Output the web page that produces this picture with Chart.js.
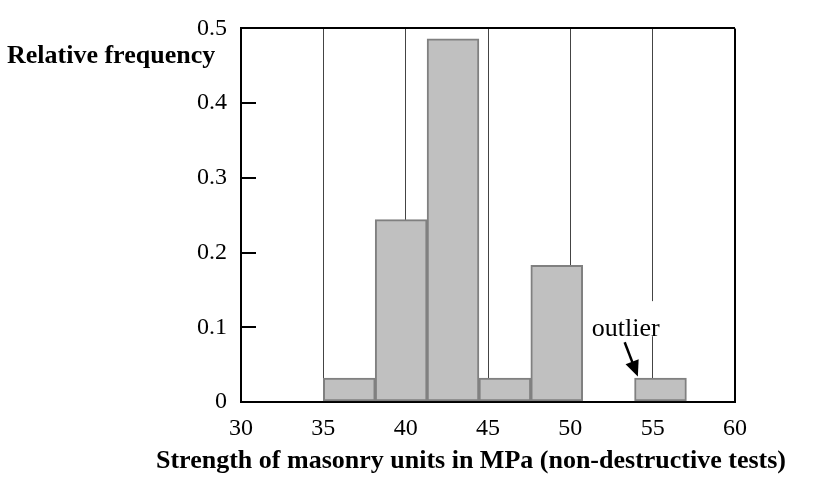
<!DOCTYPE html>
<html>
<head>
<meta charset="utf-8">
<script src="https://cdn.jsdelivr.net/npm/chart.js@4.4.0/dist/chart.umd.min.js"></script>
<style>
  html, body { margin: 0; padding: 0; background: #fff; }
</style>
</head>
<body>
<canvas id="myChart" width="825" height="478"></canvas>
<script>
// histogram bins (MPa) and relative frequencies
const binEdges = [35, 38.15, 41.3, 44.45, 47.6, 50.75, 53.9, 57.05];
const relFreq = [0.032, 0.244, 0.486, 0.032, 0.183, 0, 0.032];
const xTicks = [30, 35, 40, 45, 50, 55, 60];
const yTicks = [0, 0.1, 0.2, 0.3, 0.4, 0.5];
const yTitle = "Relative frequency";
const xTitle = "Strength of masonry units in MPa (non-destructive tests)";
const outlierLabel = "outlier";

const SERIF = "'Liberation Serif', 'Times New Roman', serif";

const points = relFreq.map((v, i) => ({x: (binEdges[i] + binEdges[i + 1]) / 2, y: v}));

// extra drawing: inner y ticks, titles, outlier note
const extras = {
    id: 'extras',
    afterDraw(chart) {
        const ctx = chart.ctx;
        const xs = chart.scales.x, ys = chart.scales.y;
        const area = chart.chartArea;
        ctx.save();

        // ticks pointing into the plot
        ctx.strokeStyle = '#000';
        ctx.lineWidth = 2;
        yTicks.slice(1, -1).forEach(t => {
            const py = Math.round(ys.getPixelForValue(t));
            ctx.beginPath();
            ctx.moveTo(area.left, py);
            ctx.lineTo(area.left + 15, py);
            ctx.stroke();
        });

        // gap in the 55 line behind the label
        const gx = xs.getPixelForValue(55);
        ctx.fillStyle = '#fff';
        ctx.fillRect(gx - 2, ys.getPixelForValue(0.135), 4, ys.getPixelForValue(0.088) - ys.getPixelForValue(0.135));

        ctx.fillStyle = '#000';
        ctx.textBaseline = 'alphabetic';
        ctx.font = '26px ' + SERIF;
        ctx.textAlign = 'left';
        ctx.fillText(outlierLabel, xs.getPixelForValue(51.3), ys.getPixelForValue(0.088));

        // arrow to the outlier bar
        const x1 = xs.getPixelForValue(53.3), y1 = ys.getPixelForValue(0.08);
        const x2 = xs.getPixelForValue(54.1), y2 = ys.getPixelForValue(0.034);
        const ang = Math.atan2(y2 - y1, x2 - x1);
        ctx.strokeStyle = '#000';
        ctx.lineWidth = 2.5;
        ctx.beginPath();
        ctx.moveTo(x1, y1);
        ctx.lineTo(x2 - 12 * Math.cos(ang), y2 - 12 * Math.sin(ang));
        ctx.stroke();
        ctx.beginPath();
        ctx.moveTo(x2, y2);
        ctx.lineTo(x2 - 16 * Math.cos(ang) + 7 * Math.sin(ang), y2 - 16 * Math.sin(ang) - 7 * Math.cos(ang));
        ctx.lineTo(x2 - 16 * Math.cos(ang) - 7 * Math.sin(ang), y2 - 16 * Math.sin(ang) + 7 * Math.cos(ang));
        ctx.closePath();
        ctx.fill();

        // axis titles
        ctx.font = 'bold 26px ' + SERIF;
        ctx.textAlign = 'left';
        ctx.fillText(yTitle, 7, 63);
        ctx.textAlign = 'center';
        ctx.fillText(xTitle, 471, 468);
        ctx.restore();
    }
};

const ctx = document.getElementById('myChart').getContext('2d');
const myChart = new Chart(ctx, {
    type: 'bar',
    data: {
        datasets: [{
            data: points,
            backgroundColor: '#c0c0c0',
            borderColor: '#808080',
            borderWidth: 2,
            borderSkipped: false,
            barPercentage: 1,
            categoryPercentage: 1
        }]
    },
    options: {
        responsive: false,
        animation: false,
        layout: {padding: {top: 12, right: 90, left: 0, bottom: 0}},
        plugins: {legend: {display: false}, tooltip: {enabled: false}},
        scales: {
            x: {
                type: 'linear',
                min: 30,
                max: 60,
                offset: false,
                afterFit: s => { s.height = 76; },
                afterBuildTicks: s => { s.ticks = xTicks.map(v => ({value: v})); },
                border: {display: true, color: '#000', width: 2},
                grid: {
                    offset: false,
                    drawTicks: false,
                    color: c => {
                        const v = c.tick ? c.tick.value : null;
                        return v === 60 ? '#000' : (v === 30 ? 'rgba(0,0,0,0)' : '#444');
                    },
                    lineWidth: c => (c.tick && c.tick.value === 60) ? 2 : 1
                },
                ticks: {color: '#000', padding: 12, font: {family: SERIF, size: 24}}
            },
            y: {
                min: 0,
                max: 0.5,
                afterFit: s => { s.width = 241; },
                afterBuildTicks: s => { s.ticks = yTicks.map(v => ({value: v})); },
                border: {display: true, color: '#000', width: 2},
                grid: {
                    drawTicks: false,
                    color: c => (c.tick && c.tick.value === 0.5) ? '#000' : 'rgba(0,0,0,0)',
                    lineWidth: 2
                },
                ticks: {color: '#000', padding: 14, font: {family: SERIF, size: 24}, callback: v => String(v)}
            }
        }
    },
    plugins: [extras]
});
</script>
</body>
</html>
